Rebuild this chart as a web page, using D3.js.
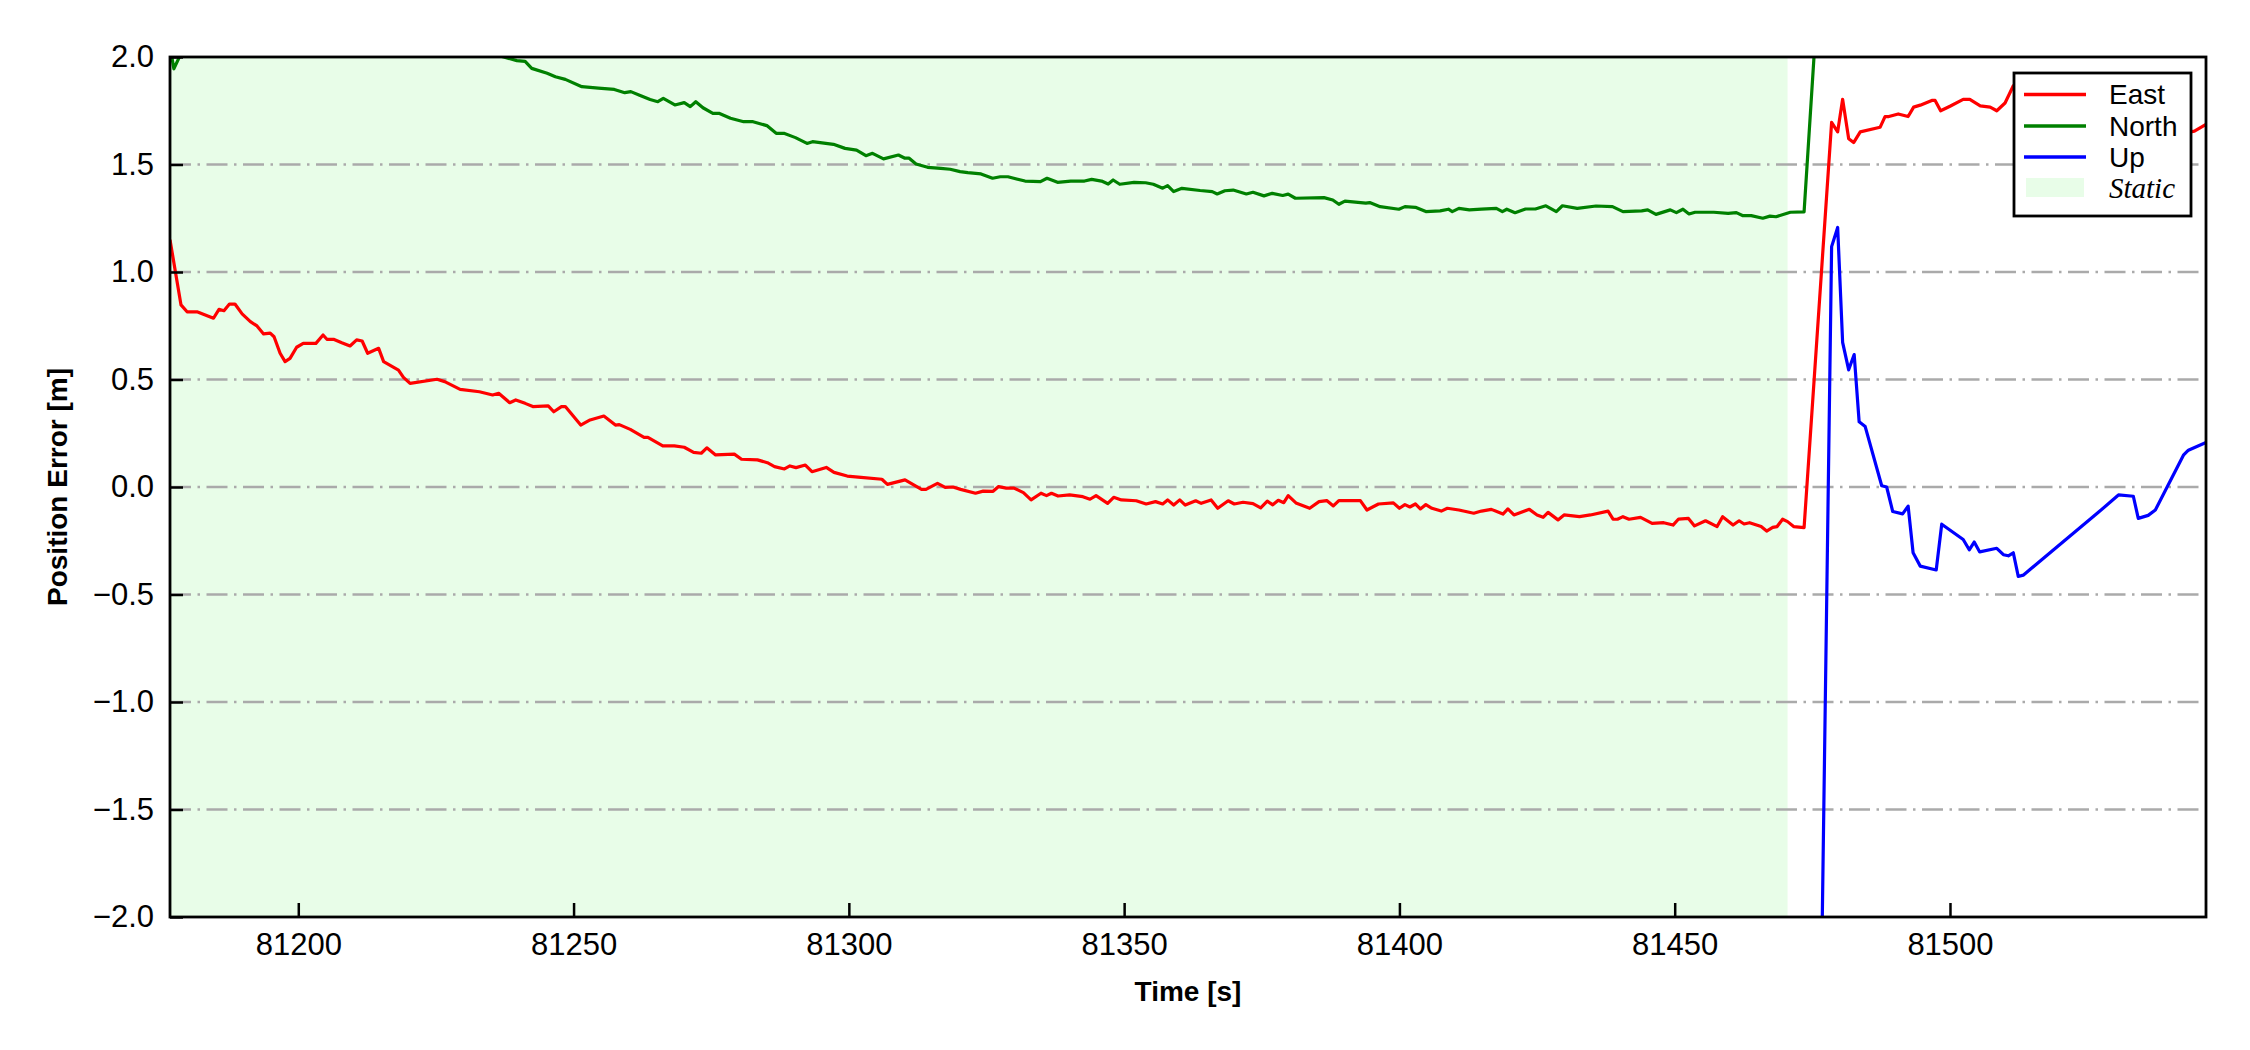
<!DOCTYPE html>
<html>
<head>
<meta charset="utf-8">
<script src="https://cdn.jsdelivr.net/npm/d3@7"></script>
<style>
  body { margin: 0; background: #fff; }
  svg { display: block; }
</style>
</head>
<body>
<svg id="chart" width="2250" height="1050"></svg>
<script>
// time axis and static interval
const timeDomain = [81176.7, 81546.5];
const staticEnd = 81470.5;
const xTicks = [81200, 81250, 81300, 81350, 81400, 81450, 81500];
const yTicks = [-2.0, -1.5, -1.0, -0.5, 0.0, 0.5, 1.0, 1.5, 2.0];

const eastTime = [81176.7,81178.7,81179.8,81181.6,81184.6,81185.6,81186.5,81187.5,81188.5,81189.8,81191.3,81192.5,81193.7,81194.9,81195.6,81196.7,81197.6,81198.5,81199.7,81200.9,81203.2,81204.5,81205.2,81206.4,81207.9,81209.4,81210.6,81211.6,81212.6,81214.6,81215.5,81218.2,81219.1,81220.3,81225.2,81226.6,81229.4,81232.9,81235.3,81236.4,81238.4,81239.5,81241.2,81242.6,81245.4,81246.4,81247.8,81248.5,81251.3,81253.0,81255.5,81257.6,81258.3,81260.3,81262.8,81263.5,81266.2,81268.3,81270.1,81271.8,81273.2,81274.2,81275.8,81279.2,81280.5,81283.4,81285.2,81286.5,81288.3,81289.3,81290.4,81292.1,81293.3,81295.9,81297.3,81299.7,81302.2,81306.0,81307.0,81310.2,81313.2,81314.0,81316.1,81317.5,81318.9,81320.3,81323.0,81324.4,81326.2,81327.2,81328.6,81330.0,81331.7,81333.1,81334.9,81335.9,81336.8,81338.0,81340.1,81342.5,81343.8,81344.9,81347.0,81348.1,81349.5,81352.2,81354.0,81355.7,81357.0,81357.9,81359.0,81360.1,81361.1,81363.0,81364.0,81365.8,81367.0,81368.9,81370.0,81371.6,81373.4,81374.8,81376.0,81377.0,81378.0,81379.0,81379.8,81381.2,81383.7,81385.4,81386.8,81388.0,81389.0,81392.9,81394.1,81396.2,81398.9,81400.0,81401.0,81401.9,81402.9,81403.8,81404.8,81405.9,81407.6,81408.7,81410.8,81413.5,81414.9,81416.7,81418.8,81419.7,81420.8,81423.6,81425.0,81426.1,81427.0,81428.8,81429.9,81432.7,81434.7,81437.9,81438.8,81439.6,81440.6,81441.7,81443.8,81445.9,81448.0,81449.7,81450.7,81452.5,81453.6,81455.6,81457.7,81458.7,81460.6,81461.7,81462.6,81463.6,81465.7,81466.7,81467.8,81468.6,81469.6,81470.5,81471.6,81473.5,81478.5,81479.6,81480.5,81481.6,81482.5,81483.7,81487.3,81488.2,81488.9,81490.6,81492.4,81493.4,81494.6,81496.7,81497.3,81498.3,81500.0,81502.4,81503.6,81505.5,81507.3,81508.5,81510.0,81511.5,81513.3,81526.9,81533.3,81537.3,81544.4,81546.5];
const eastValue = [1.15,0.847,0.815,0.815,0.785,0.826,0.82,0.851,0.851,0.805,0.769,0.749,0.712,0.716,0.699,0.622,0.583,0.598,0.65,0.668,0.668,0.707,0.687,0.687,0.671,0.656,0.684,0.679,0.622,0.645,0.583,0.544,0.51,0.482,0.501,0.49,0.454,0.443,0.428,0.436,0.392,0.405,0.389,0.374,0.377,0.35,0.374,0.374,0.288,0.312,0.33,0.288,0.29,0.268,0.231,0.231,0.191,0.191,0.185,0.161,0.157,0.182,0.149,0.153,0.129,0.126,0.113,0.095,0.084,0.098,0.09,0.102,0.071,0.091,0.068,0.051,0.045,0.036,0.012,0.033,-0.011,-0.011,0.017,-0.002,0.0,-0.011,-0.029,-0.019,-0.02,0.002,-0.005,-0.005,-0.026,-0.06,-0.029,-0.04,-0.029,-0.042,-0.037,-0.045,-0.057,-0.04,-0.076,-0.048,-0.06,-0.064,-0.079,-0.068,-0.079,-0.06,-0.084,-0.06,-0.084,-0.064,-0.076,-0.06,-0.099,-0.064,-0.079,-0.071,-0.077,-0.097,-0.066,-0.083,-0.062,-0.073,-0.04,-0.074,-0.099,-0.068,-0.063,-0.088,-0.063,-0.063,-0.107,-0.079,-0.074,-0.099,-0.082,-0.093,-0.079,-0.102,-0.082,-0.099,-0.112,-0.099,-0.107,-0.122,-0.112,-0.104,-0.126,-0.102,-0.13,-0.104,-0.13,-0.141,-0.118,-0.153,-0.13,-0.138,-0.13,-0.112,-0.149,-0.15,-0.138,-0.15,-0.141,-0.169,-0.166,-0.177,-0.149,-0.146,-0.181,-0.157,-0.184,-0.138,-0.177,-0.157,-0.172,-0.166,-0.184,-0.205,-0.188,-0.184,-0.15,-0.161,-0.184,-0.189,1.696,1.652,1.803,1.62,1.602,1.652,1.673,1.723,1.723,1.735,1.723,1.767,1.776,1.798,1.798,1.75,1.771,1.803,1.803,1.773,1.767,1.75,1.786,1.866,1.9,1.82,1.7,1.62,1.655,1.687];

const northTime = [81176.7,81177.4,81179.5,81190.0,81205.0,81220.0,81232.0,81237.3,81239.7,81241.2,81242.4,81245.2,81246.7,81248.5,81251.5,81254.5,81257.4,81259.3,81260.4,81262.1,81263.9,81265.3,81266.3,81268.4,81270.1,81271.2,81272.2,81273.5,81275.3,81276.4,81278.5,81280.9,81282.6,81285.1,81286.8,81288.2,81290.3,81292.4,81293.4,81297.2,81299.3,81301.4,81303.1,81304.3,81306.3,81309.0,81310.1,81310.9,81312.2,81314.3,81316.7,81318.4,81320.2,81321.6,81324.0,81326.1,81327.5,81328.9,81332.0,81334.8,81336.0,81337.9,81340.3,81342.8,81344.1,81345.9,81347.1,81348.0,81349.2,81351.8,81353.9,81355.3,81357.0,81357.9,81359.0,81360.5,81363.8,81366.0,81366.9,81368.3,81369.8,81372.2,81373.4,81375.4,81376.9,81378.8,81379.8,81381.1,81386.3,81387.9,81389.0,81390.1,81393.9,81394.6,81396.5,81399.9,81401.0,81402.9,81404.8,81407.4,81408.9,81409.6,81410.8,81412.7,81414.9,81417.6,81418.7,81419.5,81421.0,81422.9,81424.7,81426.6,81428.5,81429.6,81432.3,81435.7,81438.7,81440.6,81444.0,81445.1,81446.6,81449.2,81450.3,81451.5,81452.6,81453.7,81457.1,81459.7,81461.2,81462.4,81463.9,81466.0,81467.3,81468.4,81471.0,81473.5,81478.5];
const northValue = [2.05,1.945,2.06,2.15,2.2,2.12,2.04,2.0,1.983,1.98,1.947,1.924,1.908,1.896,1.862,1.855,1.849,1.834,1.839,1.821,1.802,1.792,1.808,1.777,1.788,1.769,1.792,1.764,1.738,1.738,1.715,1.699,1.699,1.681,1.645,1.645,1.625,1.598,1.606,1.594,1.575,1.567,1.541,1.552,1.526,1.544,1.53,1.53,1.502,1.487,1.482,1.478,1.467,1.462,1.456,1.436,1.443,1.443,1.423,1.42,1.436,1.417,1.423,1.423,1.431,1.423,1.409,1.428,1.408,1.417,1.415,1.408,1.39,1.402,1.374,1.389,1.379,1.374,1.363,1.378,1.381,1.363,1.371,1.354,1.366,1.356,1.362,1.343,1.346,1.335,1.315,1.33,1.32,1.323,1.304,1.292,1.304,1.301,1.281,1.284,1.292,1.281,1.296,1.289,1.292,1.296,1.281,1.292,1.276,1.293,1.293,1.308,1.281,1.308,1.296,1.307,1.304,1.281,1.284,1.289,1.268,1.289,1.276,1.292,1.27,1.278,1.278,1.273,1.276,1.262,1.262,1.25,1.26,1.257,1.278,1.28,3.28];

const upTime = [81473.5,81478.5,81479.6,81480.5,81481.6,81482.6,81483.5,81484.6,81487.6,81488.5,81489.6,81491.4,81492.4,81493.3,81494.6,81497.5,81498.5,81502.4,81503.5,81504.4,81505.4,81508.5,81509.7,81510.6,81511.5,81512.4,81513.3,81526.9,81530.6,81533.3,81534.2,81536.0,81537.3,81542.4,81543.3,81546.5];
const upValue = [-8.1,1.118,1.207,0.673,0.545,0.616,0.303,0.281,0.006,0.0,-0.114,-0.125,-0.089,-0.306,-0.368,-0.386,-0.173,-0.244,-0.292,-0.256,-0.302,-0.285,-0.315,-0.32,-0.306,-0.416,-0.41,-0.119,-0.037,-0.043,-0.146,-0.132,-0.107,0.148,0.171,0.207];

const seriesNames = ["East", "North", "Up"];
const seriesColors = ["#ff0000", "#008000", "#0000ff"];

function drawPositionError() {
    const margin = {top: 57, right: 44, bottom: 133, left: 170};
    const width = 2250 - margin.left - margin.right;
    const height = 1050 - margin.top - margin.bottom;

    const svg = d3.select("#chart");
    const g = svg.append("g")
        .attr("transform", `translate(${margin.left},${margin.top})`);

    const x = d3.scaleLinear().domain(timeDomain).range([0, width]);
    const y = d3.scaleLinear().domain([-2, 2]).range([height, 0]);

    g.append("clipPath").attr("id", "plotClip")
        .append("rect").attr("width", width).attr("height", height);

    // static period shading
    g.append("rect")
        .attr("x", x(timeDomain[0]))
        .attr("y", 0)
        .attr("width", x(staticEnd) - x(timeDomain[0]))
        .attr("height", height)
        .attr("fill", "#e8fde8");

    // horizontal grid, dash-dot
    g.append("g")
        .selectAll("line")
        .data(yTicks.filter(d => d > -2 && d < 2))
        .join("line")
        .attr("x1", 0).attr("x2", width)
        .attr("y1", d => y(d)).attr("y2", d => y(d))
        .attr("stroke", "#aaaaaa")
        .attr("stroke-width", 2.5)
        .attr("stroke-dasharray", "21,6.5,2.5,6.5");

    const series = [
        {t: eastTime, v: eastValue},
        {t: northTime, v: northValue},
        {t: upTime, v: upValue}
    ];

    const line = d3.line()
        .x(d => x(d[0]))
        .y(d => y(d[1]));

    g.append("g").attr("clip-path", "url(#plotClip)")
        .selectAll("path")
        .data(series)
        .join("path")
        .attr("d", s => line(s.t.map((t, i) => [t, s.v[i]])))
        .attr("fill", "none")
        .attr("stroke", (s, i) => seriesColors[i])
        .attr("stroke-width", 3.2)
        .attr("stroke-linejoin", "round");

    // axes with inward ticks
    const yAxis = g.append("g")
        .call(d3.axisLeft(y).tickValues(yTicks).tickFormat(d3.format(".1f"))
            .tickSizeInner(-13).tickSizeOuter(0).tickPadding(16));
    const xAxis = g.append("g")
        .attr("transform", `translate(0,${height})`)
        .call(d3.axisBottom(x).tickValues(xTicks).tickFormat(d3.format("d"))
            .tickSizeInner(-14).tickSizeOuter(0).tickPadding(16));

    [yAxis, xAxis].forEach(ax => {
        ax.select(".domain").remove();
        ax.selectAll(".tick line").attr("stroke", "#000").attr("stroke-width", 2.5);
        ax.selectAll(".tick text")
            .attr("fill", "#000")
            .style("font-family", "'Liberation Sans', Arial, sans-serif")
            .style("font-size", "31px");
    });

    // frame
    g.append("rect")
        .attr("width", width).attr("height", height)
        .attr("fill", "none")
        .attr("stroke", "#000")
        .attr("stroke-width", 2.8);

    svg.append("text")
        .attr("x", margin.left + width / 2)
        .attr("y", 1001)
        .attr("text-anchor", "middle")
        .style("font-family", "'Liberation Sans', Arial, sans-serif")
        .style("font-size", "28px")
        .style("font-weight", "bold")
        .text("Time [s]");

    svg.append("text")
        .attr("transform", `translate(67,${margin.top + height / 2}) rotate(-90)`)
        .attr("text-anchor", "middle")
        .style("font-family", "'Liberation Sans', Arial, sans-serif")
        .style("font-size", "28px")
        .style("font-weight", "bold")
        .text("Position Error [m]");

    // legend
    const legend = svg.append("g").attr("transform", "translate(2014,73)");
    legend.append("rect")
        .attr("width", 177).attr("height", 143)
        .attr("fill", "#fff")
        .attr("stroke", "#000")
        .attr("stroke-width", 2.8);

    const rowY = [21.5, 53, 84, 114.5];
    seriesNames.forEach((name, i) => {
        legend.append("line")
            .attr("x1", 10).attr("x2", 72)
            .attr("y1", rowY[i]).attr("y2", rowY[i])
            .attr("stroke", seriesColors[i])
            .attr("stroke-width", 3.5);
        legend.append("text")
            .attr("x", 95).attr("y", rowY[i])
            .attr("dominant-baseline", "central")
            .style("font-family", "'Liberation Sans', Arial, sans-serif")
            .style("font-size", "28px")
            .text(name);
    });
    legend.append("rect")
        .attr("x", 12).attr("y", rowY[3] - 9.5)
        .attr("width", 58).attr("height", 19)
        .attr("fill", "#e8fde8");
    legend.append("text")
        .attr("x", 95).attr("y", rowY[3])
        .attr("dominant-baseline", "central")
        .style("font-family", "'Liberation Serif', 'Times New Roman', serif")
        .style("font-style", "italic")
        .style("font-size", "29px")
        .text("Static");
}

document.addEventListener('DOMContentLoaded', drawPositionError);
</script>
</body>
</html>
